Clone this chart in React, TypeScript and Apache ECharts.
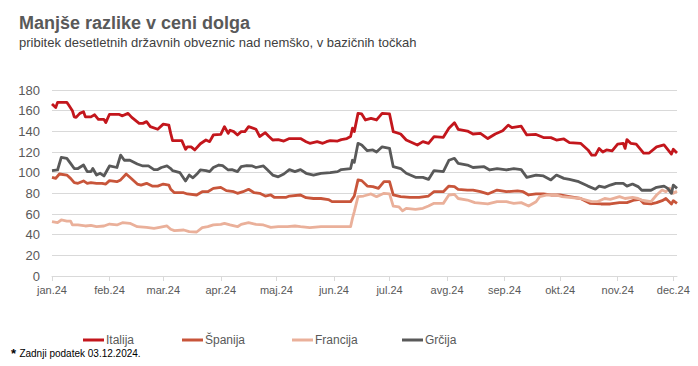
import React, { useEffect, useRef } from "react";
import * as echarts from "echarts";

const seriesNames = ["Italija", "Španija", "Francija", "Grčija"];
const seriesColors = ["#c3161c", "#c8553a", "#eab09a", "#595959"];

const monthStarts = [
  "2024-01-01", "2024-02-01", "2024-03-01", "2024-04-01", "2024-05-01", "2024-06-01",
  "2024-07-01", "2024-08-01", "2024-09-01", "2024-10-01", "2024-11-01", "2024-12-01",
];
const monthLabels = [
  "jan.24", "feb.24", "mar.24", "apr.24", "maj.24", "jun.24",
  "jul.24", "avg.24", "sep.24", "okt.24", "nov.24", "dec.24",
];
const yTicks = [0, 20, 40, 60, 80, 100, 120, 140, 160, 180];

const italija: [string, number][] = [
  ["2024-01-01", 166.5], ["2024-01-03", 163], ["2024-01-04", 168], ["2024-01-09", 168], ["2024-01-10", 165.5],
  ["2024-01-12", 160], ["2024-01-13", 154], ["2024-01-14", 153.5], ["2024-01-16", 157.4], ["2024-01-18", 159],
  ["2024-01-19", 154], ["2024-01-22", 154], ["2024-01-24", 156], ["2024-01-26", 151.6], ["2024-01-29", 151.6],
  ["2024-01-30", 148.4], ["2024-02-01", 156.5], ["2024-02-06", 156.5], ["2024-02-08", 155], ["2024-02-11", 157.4],
  ["2024-02-13", 153.5], ["2024-02-17", 147.7], ["2024-02-19", 147.7], ["2024-02-21", 149.4], ["2024-02-23", 144.5],
  ["2024-02-27", 142], ["2024-03-01", 147], ["2024-03-04", 146], ["2024-03-05", 138], ["2024-03-06", 131],
  ["2024-03-11", 131], ["2024-03-13", 122.6], ["2024-03-14", 125], ["2024-03-16", 125], ["2024-03-18", 122],
  ["2024-03-21", 128], ["2024-03-24", 131.6], ["2024-03-26", 130], ["2024-03-28", 136.5], ["2024-04-01", 137],
  ["2024-04-03", 144.5], ["2024-04-05", 138], ["2024-04-06", 141], ["2024-04-08", 139.7], ["2024-04-10", 136.5],
  ["2024-04-12", 139.7], ["2024-04-14", 139.7], ["2024-04-16", 144.5], ["2024-04-20", 142], ["2024-04-22", 135],
  ["2024-04-25", 138.7], ["2024-04-27", 135], ["2024-04-29", 131.6], ["2024-05-02", 132], ["2024-05-05", 130.6],
  ["2024-05-08", 133], ["2024-05-14", 133], ["2024-05-17", 130], ["2024-05-19", 128.4], ["2024-05-23", 130],
  ["2024-05-26", 128.4], ["2024-05-28", 130], ["2024-05-30", 131], ["2024-06-03", 130.6], ["2024-06-05", 132],
  ["2024-06-08", 133], ["2024-06-10", 135], ["2024-06-11", 143], ["2024-06-12", 139.7], ["2024-06-14", 157.4],
  ["2024-06-16", 156.8], ["2024-06-18", 151], ["2024-06-21", 152.6], ["2024-06-24", 151], ["2024-06-27", 157.4],
  ["2024-07-01", 156.8], ["2024-07-03", 139.7], ["2024-07-07", 137.4], ["2024-07-10", 131.6], ["2024-07-16", 126.8],
  ["2024-07-19", 130], ["2024-07-22", 128.4], ["2024-07-25", 134.8], ["2024-07-30", 134.2], ["2024-08-02", 143],
  ["2024-08-05", 148.4], ["2024-08-07", 142], ["2024-08-12", 140.3], ["2024-08-15", 137.4], ["2024-08-19", 138],
  ["2024-08-23", 133], ["2024-08-27", 137.4], ["2024-08-31", 140.6], ["2024-09-03", 146], ["2024-09-05", 143.5],
  ["2024-09-10", 145], ["2024-09-13", 136.5], ["2024-09-18", 137], ["2024-09-22", 134], ["2024-09-26", 133.9],
  ["2024-09-29", 131.6], ["2024-10-03", 132.6], ["2024-10-06", 129], ["2024-10-12", 128.4], ["2024-10-16", 122],
  ["2024-10-18", 117], ["2024-10-20", 117], ["2024-10-22", 123.5], ["2024-10-24", 120], ["2024-10-26", 122],
  ["2024-10-29", 121], ["2024-11-01", 127.7], ["2024-11-04", 128.4], ["2024-11-05", 123.5], ["2024-11-06", 132],
  ["2024-11-08", 128.4], ["2024-11-11", 127.7], ["2024-11-15", 119], ["2024-11-18", 119], ["2024-11-22", 125],
  ["2024-11-26", 126.8], ["2024-11-30", 118], ["2024-12-01", 122.6], ["2024-12-03", 119],
];

const spanija: [string, number][] = [
  ["2024-01-01", 95.5], ["2024-01-03", 94.5], ["2024-01-05", 98.7], ["2024-01-09", 97.7], ["2024-01-11", 94.5],
  ["2024-01-13", 90.3], ["2024-01-15", 89.7], ["2024-01-18", 92], ["2024-01-20", 89.7], ["2024-01-22", 90.3],
  ["2024-01-25", 89.7], ["2024-01-28", 89.7], ["2024-01-30", 89], ["2024-02-01", 92.3], ["2024-02-05", 91.3],
  ["2024-02-07", 93], ["2024-02-10", 98.7], ["2024-02-12", 95.5], ["2024-02-16", 89], ["2024-02-18", 88],
  ["2024-02-21", 89.7], ["2024-02-24", 87], ["2024-02-27", 87], ["2024-03-01", 89], ["2024-03-04", 88],
  ["2024-03-05", 84], ["2024-03-07", 80.6], ["2024-03-12", 80.6], ["2024-03-14", 79.4], ["2024-03-19", 78.4],
  ["2024-03-22", 81.6], ["2024-03-25", 81.6], ["2024-03-28", 84.8], ["2024-04-01", 85.8], ["2024-04-04", 82.6],
  ["2024-04-08", 81.6], ["2024-04-10", 80], ["2024-04-13", 81.6], ["2024-04-16", 83.9], ["2024-04-19", 80.6],
  ["2024-04-22", 80], ["2024-04-25", 77.4], ["2024-04-28", 78.4], ["2024-04-30", 76], ["2024-05-06", 76],
  ["2024-05-08", 77.4], ["2024-05-14", 78.4], ["2024-05-17", 75.8], ["2024-05-21", 75], ["2024-05-25", 75],
  ["2024-05-29", 74], ["2024-05-31", 72], ["2024-06-04", 72], ["2024-06-10", 72], ["2024-06-12", 77.4],
  ["2024-06-14", 93], ["2024-06-16", 92.3], ["2024-06-19", 87], ["2024-06-22", 86.5], ["2024-06-25", 84.8],
  ["2024-06-28", 91.3], ["2024-07-01", 91.3], ["2024-07-03", 78.4], ["2024-07-07", 76.8], ["2024-07-12", 76],
  ["2024-07-17", 76], ["2024-07-22", 77.4], ["2024-07-25", 81.6], ["2024-07-30", 81.6], ["2024-08-02", 87],
  ["2024-08-05", 86.5], ["2024-08-07", 83.9], ["2024-08-12", 83.2], ["2024-08-15", 83.2], ["2024-08-19", 81.6],
  ["2024-08-23", 79.4], ["2024-08-28", 83.2], ["2024-09-02", 81.6], ["2024-09-08", 82.3], ["2024-09-11", 81.6],
  ["2024-09-14", 78.4], ["2024-09-18", 79.4], ["2024-09-22", 79.4], ["2024-09-26", 78.4], ["2024-10-01", 78.4],
  ["2024-10-06", 76.8], ["2024-10-12", 75], ["2024-10-17", 70.3], ["2024-10-23", 69.7], ["2024-10-28", 69.7],
  ["2024-11-02", 71], ["2024-11-06", 71], ["2024-11-10", 73.5], ["2024-11-13", 74.2], ["2024-11-15", 70.3],
  ["2024-11-19", 69.7], ["2024-11-22", 71], ["2024-11-25", 72.9], ["2024-11-27", 75], ["2024-11-30", 69.7],
  ["2024-12-01", 72.9], ["2024-12-03", 70.3],
];

const francija: [string, number][] = [
  ["2024-01-01", 52.6], ["2024-01-04", 51.6], ["2024-01-06", 54.2], ["2024-01-09", 53.2], ["2024-01-11", 53.2],
  ["2024-01-12", 49.4], ["2024-01-15", 49.4], ["2024-01-19", 48.4], ["2024-01-22", 49], ["2024-01-25", 47.7],
  ["2024-01-29", 48.4], ["2024-02-01", 50.3], ["2024-02-05", 49.4], ["2024-02-08", 51.6], ["2024-02-12", 51],
  ["2024-02-16", 47.7], ["2024-02-21", 47], ["2024-02-25", 46], ["2024-02-28", 47], ["2024-03-03", 48.4],
  ["2024-03-05", 45.2], ["2024-03-07", 43.9], ["2024-03-12", 44.5], ["2024-03-15", 42.9], ["2024-03-19", 42.6],
  ["2024-03-22", 46.8], ["2024-03-25", 47.7], ["2024-03-28", 49.4], ["2024-04-01", 50], ["2024-04-03", 51],
  ["2024-04-06", 49.4], ["2024-04-10", 47.7], ["2024-04-12", 50], ["2024-04-16", 51.6], ["2024-04-20", 50],
  ["2024-04-24", 49.4], ["2024-04-28", 47], ["2024-05-02", 47.7], ["2024-05-07", 47.7], ["2024-05-11", 48.4],
  ["2024-05-14", 47.7], ["2024-05-19", 46.8], ["2024-05-25", 47.7], ["2024-05-30", 47.7], ["2024-06-10", 47.7],
  ["2024-06-11", 55.8], ["2024-06-12", 62.3], ["2024-06-14", 76.8], ["2024-06-17", 77.4], ["2024-06-19", 78.4],
  ["2024-06-21", 79.4], ["2024-06-24", 76.8], ["2024-06-26", 78.4], ["2024-06-28", 80], ["2024-07-01", 79.4],
  ["2024-07-03", 67.7], ["2024-07-06", 67], ["2024-07-08", 63], ["2024-07-10", 65.5], ["2024-07-15", 64.5],
  ["2024-07-19", 65.5], ["2024-07-22", 67.7], ["2024-07-25", 70.3], ["2024-07-30", 70.3], ["2024-08-02", 78.4],
  ["2024-08-05", 79], ["2024-08-07", 75], ["2024-08-12", 73.5], ["2024-08-16", 71], ["2024-08-23", 69.7],
  ["2024-08-28", 71.9], ["2024-09-02", 71.9], ["2024-09-06", 70.3], ["2024-09-10", 71], ["2024-09-14", 67.7],
  ["2024-09-18", 71.9], ["2024-09-20", 76.8], ["2024-09-24", 78.4], ["2024-09-29", 78.4], ["2024-10-02", 76.8],
  ["2024-10-06", 76], ["2024-10-12", 75], ["2024-10-18", 71.9], ["2024-10-21", 71.9], ["2024-10-25", 75],
  ["2024-10-28", 74.2], ["2024-11-02", 76.8], ["2024-11-05", 75], ["2024-11-09", 76], ["2024-11-12", 75],
  ["2024-11-14", 73.5], ["2024-11-19", 71.9], ["2024-11-22", 78.4], ["2024-11-25", 83.2], ["2024-11-27", 81.6],
  ["2024-11-29", 85], ["2024-12-01", 80], ["2024-12-03", 82],
];

const grcija: [string, number][] = [
  ["2024-01-01", 102], ["2024-01-04", 102.6], ["2024-01-06", 114.8], ["2024-01-09", 113.9], ["2024-01-11", 109],
  ["2024-01-13", 104], ["2024-01-15", 104], ["2024-01-18", 107.4], ["2024-01-20", 101], ["2024-01-22", 101],
  ["2024-01-23", 104], ["2024-01-25", 97.7], ["2024-01-27", 99.4], ["2024-01-29", 96.8], ["2024-02-01", 106.5],
  ["2024-02-05", 105], ["2024-02-07", 117], ["2024-02-09", 112], ["2024-02-12", 112], ["2024-02-16", 108.4],
  ["2024-02-19", 106.5], ["2024-02-22", 106.5], ["2024-02-25", 103], ["2024-02-27", 103], ["2024-02-29", 105],
  ["2024-03-03", 106.5], ["2024-03-05", 104], ["2024-03-06", 102], ["2024-03-10", 100], ["2024-03-13", 92],
  ["2024-03-15", 97.7], ["2024-03-17", 95], ["2024-03-19", 98.4], ["2024-03-21", 102.6], ["2024-03-24", 102],
  ["2024-03-26", 101], ["2024-03-28", 105], ["2024-03-31", 107.4], ["2024-04-02", 106.8], ["2024-04-05", 102.6],
  ["2024-04-07", 103], ["2024-04-10", 101], ["2024-04-12", 105.8], ["2024-04-15", 106.8], ["2024-04-18", 106.5],
  ["2024-04-20", 105], ["2024-04-24", 106.5], ["2024-04-26", 103], ["2024-04-29", 97.7], ["2024-05-02", 96],
  ["2024-05-05", 98.7], ["2024-05-08", 103], ["2024-05-11", 101], ["2024-05-14", 103], ["2024-05-17", 99.4],
  ["2024-05-21", 97.7], ["2024-05-25", 99.4], ["2024-05-30", 100], ["2024-06-03", 101], ["2024-06-05", 103],
  ["2024-06-10", 104], ["2024-06-11", 112], ["2024-06-12", 110], ["2024-06-14", 128.4], ["2024-06-16", 126.8],
  ["2024-06-19", 121.3], ["2024-06-22", 122], ["2024-06-24", 120], ["2024-06-27", 125], ["2024-07-01", 123.5],
  ["2024-07-03", 105.8], ["2024-07-07", 104], ["2024-07-10", 99.4], ["2024-07-15", 95.5], ["2024-07-19", 95.5],
  ["2024-07-22", 93.5], ["2024-07-25", 102], ["2024-07-30", 101], ["2024-08-02", 112], ["2024-08-05", 113.9],
  ["2024-08-07", 109], ["2024-08-12", 107.4], ["2024-08-15", 105], ["2024-08-21", 105.8], ["2024-08-24", 102.6],
  ["2024-08-28", 104], ["2024-09-02", 102.6], ["2024-09-06", 104], ["2024-09-10", 103], ["2024-09-13", 95.5],
  ["2024-09-18", 97.7], ["2024-09-22", 96.8], ["2024-09-26", 93], ["2024-09-29", 97.7], ["2024-10-03", 94.5],
  ["2024-10-06", 93.5], ["2024-10-11", 91.3], ["2024-10-16", 87], ["2024-10-20", 84], ["2024-10-22", 87],
  ["2024-10-25", 85.8], ["2024-10-28", 88], ["2024-10-31", 89.7], ["2024-11-04", 89.7], ["2024-11-06", 87],
  ["2024-11-09", 89], ["2024-11-12", 86.5], ["2024-11-14", 83], ["2024-11-19", 83], ["2024-11-22", 85.8],
  ["2024-11-26", 87], ["2024-11-28", 84.8], ["2024-11-30", 80], ["2024-12-01", 88], ["2024-12-03", 84.8],
];

const allSeries = [italija, spanija, francija, grcija];
const legendLefts = [83, 182, 292, 402];

const NARROW = "'Liberation Sans Narrow', 'Arial Narrow', 'Liberation Sans', Arial, sans-serif";
const SANS = "'Liberation Sans', Arial, sans-serif";

const ts = (d: string) => Date.parse(d + "T00:00:00Z");

export default function App() {
  const ref = useRef<HTMLDivElement>(null);
  useEffect(() => {
    if (!ref.current) return;
    const chart = echarts.init(ref.current, null, { renderer: "svg" });
    const tickValues = monthStarts.map(ts);
    const option: any = {
      animation: false,
      backgroundColor: "#ffffff",
      title: [
        {
          text: "Manjše razlike v ceni dolga",
          left: 14,
          top: 9,
          textStyle: { fontFamily: SANS, fontSize: 18, fontWeight: "bold", color: "#595959" },
        },
        {
          text: "pribitek desetletnih državnih obveznic nad nemško, v bazičnih točkah",
          left: 14,
          top: 31,
          textStyle: { fontFamily: SANS, fontSize: 13, fontWeight: "normal", color: "#404040" },
        },
      ],
      legend: seriesNames.map((name, i) => ({
        data: [name],
        left: legendLefts[i],
        top: 334,
        icon: "rect",
        itemWidth: 21,
        itemHeight: 3,
        padding: 0,
        textStyle: { fontFamily: NARROW, fontSize: 12, color: "#595959", padding: [0, 0, 0, -3] },
      })),
      grid: { left: 52, right: 21, top: 90, bottom: 90, containLabel: false },
      xAxis: {
        type: "value",
        min: ts("2024-01-01"),
        max: ts("2024-12-03"),
        splitLine: { show: false },
        axisLine: { show: true, lineStyle: { color: "#d9d9d9", width: 1 } },
        axisTick: { show: true, customValues: tickValues, length: 5, lineStyle: { color: "#d9d9d9" } },
        axisLabel: {
          customValues: tickValues,
          margin: 8,
          fontFamily: NARROW,
          fontSize: 11,
          color: "#595959",
          formatter: (v: number) => {
            const idx = tickValues.indexOf(v);
            return idx >= 0 ? monthLabels[idx] : "";
          },
        },
      },
      yAxis: {
        type: "value",
        min: 0,
        max: 180,
        interval: 20,
        axisLine: { show: false },
        axisTick: { show: false },
        splitLine: { show: true, lineStyle: { color: "#d9d9d9", width: 1 } },
        axisLabel: {
          margin: 12,
          fontFamily: SANS,
          fontSize: 13,
          color: "#595959",
          formatter: (v: number) => (yTicks.includes(v) ? String(v) : ""),
        },
      },
      series: seriesNames.map((name, i) => ({
        name,
        type: "line",
        data: allSeries[i].map(([d, v]) => [ts(d), v]),
        showSymbol: false,
        symbol: "none",
        color: seriesColors[i],
        lineStyle: { color: seriesColors[i], width: 2.8, join: "round" },
        z: 2 + i,
      })),
      graphic: [
        {
          type: "text",
          left: 11,
          top: 347,
          style: {
            text: "{s|*} {t|Zadnji podatek 03.12.2024.}",
            rich: {
              s: { fontFamily: SANS, fontSize: 13, fontWeight: "bold", fill: "#000" },
              t: { fontFamily: NARROW, fontSize: 10, fill: "#000" },
            },
          },
        },
      ],
    };
    chart.setOption(option);
    return () => chart.dispose();
  }, []);
  return (
    <div
      ref={ref}
      style={{ position: "fixed", left: 0, top: 0, width: 698, height: 366, background: "#fff" }}
    />
  );
}
